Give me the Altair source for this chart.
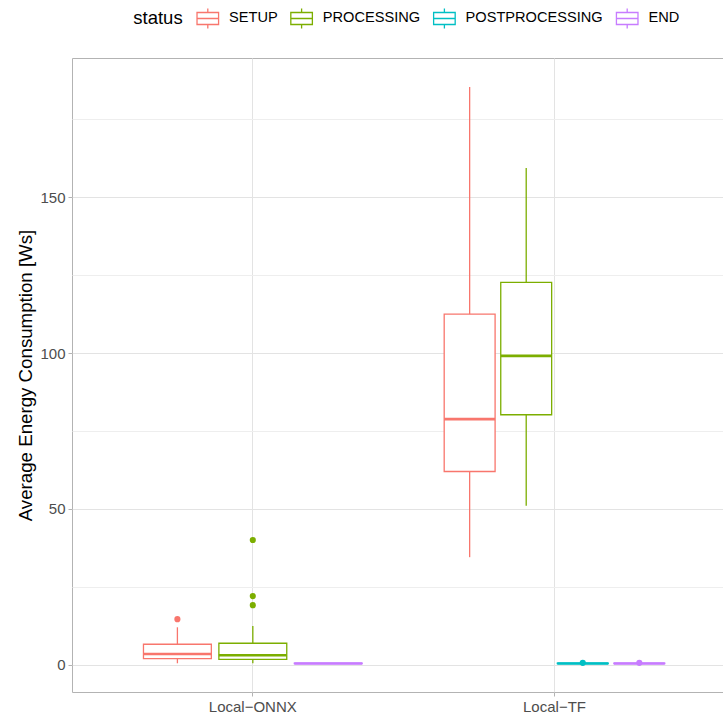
import altair as alt
import pandas as pd

# ---- data ----
categories = ["Local−ONNX", "Local−TF"]
statuses = ["SETUP", "PROCESSING", "POSTPROCESSING", "END"]
colors = ["#F8766D", "#7CAE00", "#00BFC4", "#C77CFF"]

box_category = ["Local−ONNX", "Local−ONNX", "Local−ONNX",
                "Local−TF", "Local−TF", "Local−TF", "Local−TF"]
box_status = ["SETUP", "PROCESSING", "END",
              "SETUP", "PROCESSING", "POSTPROCESSING", "END"]
lower = [0.45, 0.45, 0.30, 34.5, 51.0, 0.30, 0.30]
q1 = [1.93, 1.73, 0.35, 62.0, 80.2, 0.35, 0.35]
median = [3.44, 3.02, 0.40, 78.8, 99.1, 0.40, 0.40]
q3 = [6.55, 6.87, 0.45, 112.5, 122.7, 0.45, 0.45]
upper = [12.0, 12.4, 0.50, 185.4, 159.4, 0.50, 0.50]

out_category = ["Local−ONNX", "Local−ONNX", "Local−ONNX", "Local−ONNX",
                "Local−TF", "Local−TF"]
out_status = ["SETUP", "PROCESSING", "PROCESSING", "PROCESSING",
              "POSTPROCESSING", "END"]
out_value = [14.6, 19.1, 22.0, 40.0, 0.6, 0.6]

y_ticks = [0, 25, 50, 75, 100, 125, 150, 175]

box_df = pd.DataFrame({"category": box_category, "status": box_status,
                       "lower": lower, "q1": q1, "median": median,
                       "q3": q3, "upper": upper})
out_df = pd.DataFrame({"category": out_category, "status": out_status,
                       "value": out_value})

FONT = "Liberation Sans"
color_scale = alt.Scale(domain=statuses, range=colors)

x_enc = alt.X(
    "category:N",
    scale=alt.Scale(domain=categories, paddingInner=0.25, paddingOuter=0.204, align=0.55),
    axis=alt.Axis(title=None, bandPosition=0.5, grid=True, gridColor="#E3E3E3",
                  gridWidth=1, domain=False, ticks=True, tickSize=4,
                  tickColor="#B3B3B3", labelColor="#4D4D4D", labelFont=FONT,
                  labelFontSize=15, labelPadding=3, labelAngle=0),
)
y_scale = alt.Scale(domain=[-8.77, 194.7], nice=False, zero=False)
y_axis = alt.Axis(
    title="Average Energy Consumption [Ws]", values=y_ticks,
    labelExpr="datum.value % 50 === 0 ? datum.label : ''",
    gridColor={"condition": {"test": "datum.value % 50 === 0", "value": "#E3E3E3"},
               "value": "#EEEEEE"},
    tickColor={"condition": {"test": "datum.value % 50 === 0", "value": "#B3B3B3"},
               "value": "transparent"},
    tickSize=4, domain=False, labelColor="#4D4D4D", labelFont=FONT,
    labelFontSize=15, labelPadding=3, titleFont=FONT, titleFontSize=18.7,
    titleFontWeight="normal", titleColor="#000000", titlePadding=4,
)

# legend glyph: box outline + median + whisker stubs, drawn as separate
# straight segments so that the symbol has no filled area
GLYPH = ("M-1.04,-0.545H1.04 M0.98,-0.545V0.545 M1.04,0.545H-1.04 "
         "M-0.98,0.545V-0.545 M-0.98,0H0.98 M0,-0.545V-0.91 M0,0.545V0.91")

legend = alt.Legend(
    title="status", orient="none", legendX=61.3, legendY=-51.7,
    direction="horizontal", titleOrient="left", titleFont=FONT,
    titleFontSize=18.5, titleFontWeight="normal", titleColor="#000000",
    titlePadding=12.5, labelFont=FONT, labelFontSize=14.6, labelColor="#000000",
    labelOffset=9.2, columnPadding=8.8,
    symbolType=GLYPH, symbolSize=484, symbolStrokeWidth=1.3,
)


def group_layer(cat, present):
    b = box_df[box_df.category == cat]
    o = out_df[out_df.category == cat]
    xo = alt.XOffset("status:N", scale=alt.Scale(domain=present, paddingInner=0.1,
                                                 paddingOuter=0.05))
    col = alt.Color("status:N", scale=color_scale, legend=legend)
    plain = alt.Chart(b).encode(x=x_enc, xOffset=xo)
    base = plain.encode(color=col)
    fill = plain.mark_bar(fill="white", strokeWidth=0).encode(
        y=alt.Y("q1:Q", scale=y_scale, axis=y_axis), y2="q3:Q")
    bx = base.mark_bar(filled=False, strokeWidth=1.3).encode(
        y=alt.Y("q1:Q", scale=y_scale, axis=y_axis), y2="q3:Q")
    wl = base.mark_rule(strokeWidth=1.3).encode(
        y=alt.Y("lower:Q", scale=y_scale, axis=y_axis), y2="q1:Q")
    wh = base.mark_rule(strokeWidth=1.3).encode(
        y=alt.Y("q3:Q", scale=y_scale, axis=y_axis), y2="upper:Q")
    md = base.mark_bar(filled=False, strokeWidth=2.6).encode(
        y=alt.Y("median:Q", scale=y_scale, axis=y_axis), y2="median:Q")
    pts = alt.Chart(o).mark_circle(size=38, opacity=1).transform_calculate(
        pt_status="datum.status"
    ).encode(
        x=x_enc, xOffset=xo,
        y=alt.Y("value:Q", scale=y_scale, axis=y_axis),
        fill=alt.Fill("pt_status:N", scale=color_scale, legend=None),
    )
    return alt.layer(fill, bx, wl, wh, md, pts)


onnx = group_layer("Local−ONNX", ["SETUP", "PROCESSING", "END"])
tf = group_layer("Local−TF", statuses)

chart = (
    alt.layer(onnx, tf)
    .resolve_scale(xOffset="independent")
    .properties(width=651, height=634,
                autosize=alt.AutoSizeParams(type="none"),
                padding={"left": 72, "top": 58, "right": 0, "bottom": 23},
                background="white")
    .configure_view(stroke="#B3B3B3", strokeWidth=1)
)

chart.save("out.html", embed_options={"renderer": "svg", "actions": False})
